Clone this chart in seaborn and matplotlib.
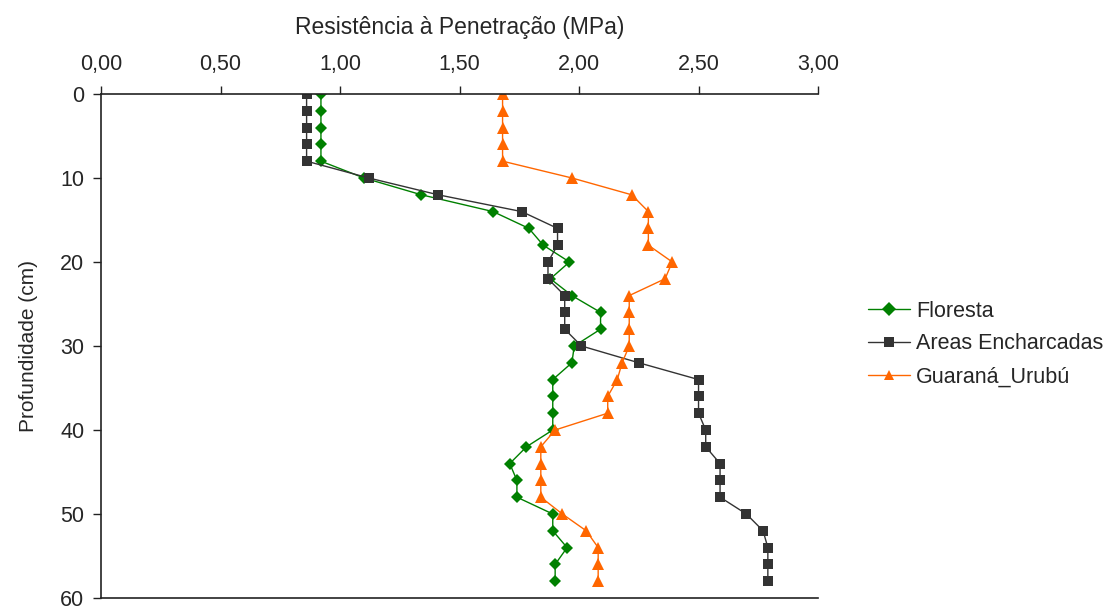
import pandas as pd
import matplotlib
matplotlib.use("Agg")
import matplotlib.pyplot as plt
import seaborn as sns
from matplotlib.ticker import FuncFormatter

# profundidades (cm)
profundidade = list(range(0, 60, 2))

# resistencia a penetracao (MPa)
floresta = [0.92, 0.92, 0.92, 0.92, 0.92, 1.10, 1.34, 1.64, 1.79, 1.85,
            1.96, 1.88, 1.97, 2.09, 2.09, 1.98, 1.97, 1.89, 1.89, 1.89,
            1.89, 1.78, 1.71, 1.74, 1.74, 1.89, 1.89, 1.95, 1.90, 1.90]
areas = [0.86, 0.86, 0.86, 0.86, 0.86, 1.12, 1.41, 1.76, 1.91, 1.91,
         1.87, 1.87, 1.94, 1.94, 1.94, 2.01, 2.25, 2.50, 2.50, 2.50,
         2.53, 2.53, 2.59, 2.59, 2.59, 2.70, 2.77, 2.79, 2.79, 2.79]
guarana = [1.68, 1.68, 1.68, 1.68, 1.68, 1.97, 2.22, 2.29, 2.29, 2.29,
           2.39, 2.36, 2.21, 2.21, 2.21, 2.21, 2.18, 2.16, 2.12, 2.12,
           1.90, 1.84, 1.84, 1.84, 1.84, 1.93, 2.03, 2.08, 2.08, 2.08]

series = ["Floresta", "Areas Encharcadas", "Guaraná_Urubú"]
cores = ["#008000", "#333333", "#FF6600"]
marcadores = ["D", "s", "^"]

df = pd.DataFrame({
    "prof": profundidade * 3,
    "rp": floresta + areas + guarana,
    "serie": [s for s in series for _ in profundidade],
})

sns.set_style("white")
plt.rcParams["font.family"] = ["Liberation Sans", "DejaVu Sans"]

fig = plt.figure(figsize=(11.18, 6.11), dpi=100)
ax = fig.add_axes([0.0904, 0.0213, 0.6413, 0.8249])

sns.lineplot(data=df, x="rp", y="prof", hue="serie", style="serie",
             hue_order=series, style_order=series,
             palette=cores, markers=marcadores, dashes=False,
             orient="y", linewidth=1.0, markersize=7, markeredgewidth=0,
             ax=ax)
# ajustar tamanho dos marcadores
for ln, m in zip(ax.get_lines(), marcadores):
    if m == "D":
        ln.set_markersize(6)
    elif m == "^":
        ln.set_markersize(8.5)

ax.set_xlim(0, 3)
ax.set_ylim(60, 0)
ax.set_xticks([0, 0.5, 1, 1.5, 2, 2.5, 3])
ax.set_yticks([0, 10, 20, 30, 40, 50, 60])
ax.xaxis.set_major_formatter(FuncFormatter(lambda v, p: f"{v:.2f}".replace(".", ",")))
ax.xaxis.tick_top()
ax.xaxis.set_label_position("top")
ax.tick_params(axis="both", labelsize=15.5, direction="out", length=6,
               width=1, color="#222222", pad=6)
ax.tick_params(axis="x", bottom=False, top=True, pad=8)
ax.tick_params(axis="y", left=True)
ax.set_xlabel("Resistência à Penetração (MPa)", fontsize=16.5, labelpad=14)
ax.set_ylabel("Profundidade (cm)", fontsize=15, labelpad=16)

for lado in ["top", "left", "bottom"]:
    ax.spines[lado].set_color("#222222")
    ax.spines[lado].set_linewidth(1.2)
ax.spines["right"].set_visible(False)

ax.legend(frameon=False, fontsize=15.5, loc="center left",
          bbox_to_anchor=(0.776, 0.437), bbox_transform=fig.transFigure,
          borderpad=0, borderaxespad=0, handlelength=1.95,
          handletextpad=0.3, labelspacing=0.55)

fig.savefig("out.png", dpi=100)
